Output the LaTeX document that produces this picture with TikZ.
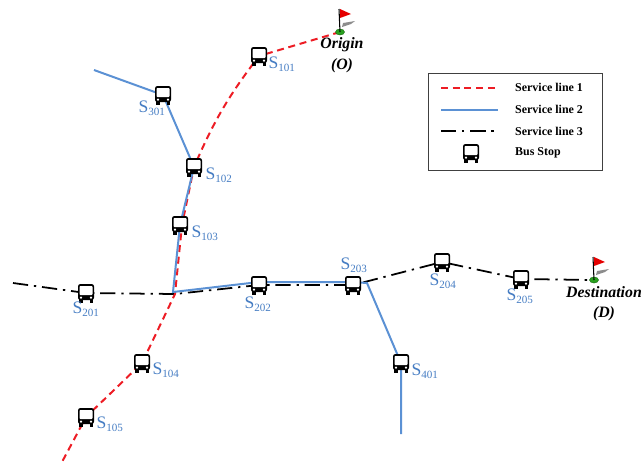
\documentclass[tikz,border=0pt]{standalone}
\usepackage{fontspec}
\setmainfont{Liberation Serif}
\usetikzlibrary{
    arrows.meta,
    positioning,
    calc,
    shapes.geometric,
    backgrounds
}
\definecolor{linered}{RGB}{237,28,36}
\definecolor{lineblue}{RGB}{91,145,212}
\definecolor{labelblue}{RGB}{70,125,195}
\definecolor{flaggreen}{RGB}{40,160,30}
\tikzset{
    % --- Bus stop (icon inside a named node) ---
    stop/.style = {
        rectangle, inner sep=0pt,
        minimum width=17*0.03cm, minimum height=20*0.03cm,
        path picture={
            \begin{scope}[shift={(path picture bounding box.center)}]
                \fill[black, rounded corners=2pt] (-8,-9) rectangle (8,7);
                \fill[black] (-7,6) rectangle (-3.5,10);
                \fill[black] (3.5,6) rectangle (7,10);
                \fill[white, rounded corners=0.8pt] (-6.5,-7) rectangle (6.5,2);
                \fill[white] (-5,4.6) circle (1.2);
                \fill[white] (5,4.6) circle (1.2);
            \end{scope}
        }
    },
    % --- Stop name ---
    stop label/.style = {
        font=\fontsize{13.5}{14}\selectfont, text=labelblue, inner sep=0pt
    },
    % --- Origin and destination marker ---
    terminal/.style = {
        ellipse, fill=flaggreen, draw=flaggreen!70!black, thin,
        minimum width=9*0.03cm, minimum height=6*0.03cm, inner sep=0pt
    },
    % --- Origin and destination name ---
    terminal label/.style = {
        font=\fontsize{13.5}{17.5}\selectfont\bfseries\itshape, align=center, inner sep=0pt
    },
    % --- Service lines ---
    line one/.style = {
        linered, line width=1.7pt, dash pattern=on 6pt off 4pt
    },
    line two/.style = {
        lineblue, line width=1.7pt
    },
    line three/.style = {
        black, line width=1.5pt, dash pattern=on 13pt off 5pt on 2pt off 5pt
    },
    % --- Legend ---
    legend box/.style = {
        rectangle, draw=black!75, thick, inner sep=0pt,
        minimum width=174*0.03cm, minimum height=97*0.03cm
    },
    legend text/.style = {
        font=\fontsize{10.2}{12}\selectfont\bfseries, anchor=west, inner sep=0pt
    }
}

\begin{document}
\begin{tikzpicture}[x=0.03cm, y=-0.03cm]
\useasboundingbox (0,0) rectangle (641,463);

% ---------------------------------------------------------
% Stops
% ---------------------------------------------------------
\foreach \sname/\px/\py in {S101/259/56, S102/194/167, S103/180/225, S104/142/363,
    S105/86/417, S201/86/293, S202/259/285, S203/353/285, S204/442/262,
    S205/521/279, S301/163/95, S401/401/363} {
    \node[stop] (\sname) at (\px,\py) {};
}

% ---------------------------------------------------------
% Stop names
% ---------------------------------------------------------
\foreach \sname/\idx/\dx/\dy in {S101/101/23/8, S102/102/25/8, S103/103/25/8,
    S104/104/24/7, S105/105/24/7, S201/201/0/16, S202/202/-1/19, S203/203/1/-20,
    S204/204/1/19, S205/205/-1/17, S301/301/-11/13, S401/401/24/8} {
    \node[stop label] (L\sname) at ($(\sname)+(\dx,\dy)$) {{\fontsize{15}{15}\selectfont S}\textsubscript{\idx}};
}

% ---------------------------------------------------------
% Free ends and junctions
% ---------------------------------------------------------
\coordinate (junction) at (175,294);
\coordinate (bend) at (367,283);
\coordinate (endone) at (62,462);
\coordinate (starttwo) at (94,70);
\coordinate (endtwo) at (401,434);
\coordinate (startthree) at (13,283);
\coordinate (blueA) at ($(S202.center)+(0,-3)$);
\coordinate (blueB) at ($(S203.center)+(0,-3)$);
\coordinate (blueC) at ($(junction)+(-2,-2)$);
\coordinate (redA) at ($(S103.center)+(2,0)$);

% ---------------------------------------------------------
% Origin and destination
% ---------------------------------------------------------
\node[terminal] (Origin) at (340,32) {};
\node[terminal] (Destination) at (594,280) {};
\node[terminal label] (OriginText) at (342,55) {Origin\\(O)};
\node[terminal label, anchor=north west] (DestText) at (566,286) {Destination};
\node[terminal label, below=7pt of DestText] (DestSym) {(D)};

\foreach \tname in {Origin, Destination} {
    \fill[black!45] ($(\tname)+(3,-9)$) -- ++(12,-2) -- ++(-4,3) -- ++(-9,3) -- cycle;
    \draw[black, line width=0.9pt] (\tname.center) -- ++(-1,-23);
    \fill[red!90!black] ($(\tname)+(0,-23)$) -- ++(11,5) -- ++(-11,4) -- cycle;
}

% ---------------------------------------------------------
% Service lines
% ---------------------------------------------------------
\begin{scope}[on background layer]
    \draw[line three] (startthree) -- (S201.center) -- (junction) -- (S202.center)
        -- (S203.center) -- (S204.center) -- (S205.center) -- (Destination.center);
    \draw[line one] (Origin.center) -- (S101.center) to[bend right=7] (S102.center)
        -- (redA) -- (junction) -- (S104.center) -- (S105.center) -- (endone);
    \draw[line two] (starttwo) -- (S301.center) -- (S102.center) -- (S103.center)
        -- (blueC) -- (blueA) -- (blueB) -- (bend) -- (S401.center) -- (endtwo);
\end{scope}

% ---------------------------------------------------------
% Legend
% ---------------------------------------------------------
\node[legend box] (Legend) at (515,121.5) {};
\coordinate (Aone) at (441,87.5);
\coordinate (Bone) at (498,87.5);
\coordinate (Atwo) at (441,109.5);
\coordinate (Btwo) at (498,109.5);
\coordinate (Athree) at (441,131);
\coordinate (Bthree) at (498,131);
\draw[line one] (Aone) -- (Bone);
\draw[line two] (Atwo) -- (Btwo);
\draw[line three] (Athree) -- (Bthree);
\node[legend text] (Tone) at (515,87.5) {Service line 1};
\node[legend text] (Ttwo) at (515,109.5) {Service line 2};
\node[legend text] (Tthree) at (515,131) {Service line 3};
\node[stop] (Legendbus) at (471,153) {};
\node[legend text] (Tbus) at (515,152.5) {Bus Stop};

\end{tikzpicture}
\end{document}
